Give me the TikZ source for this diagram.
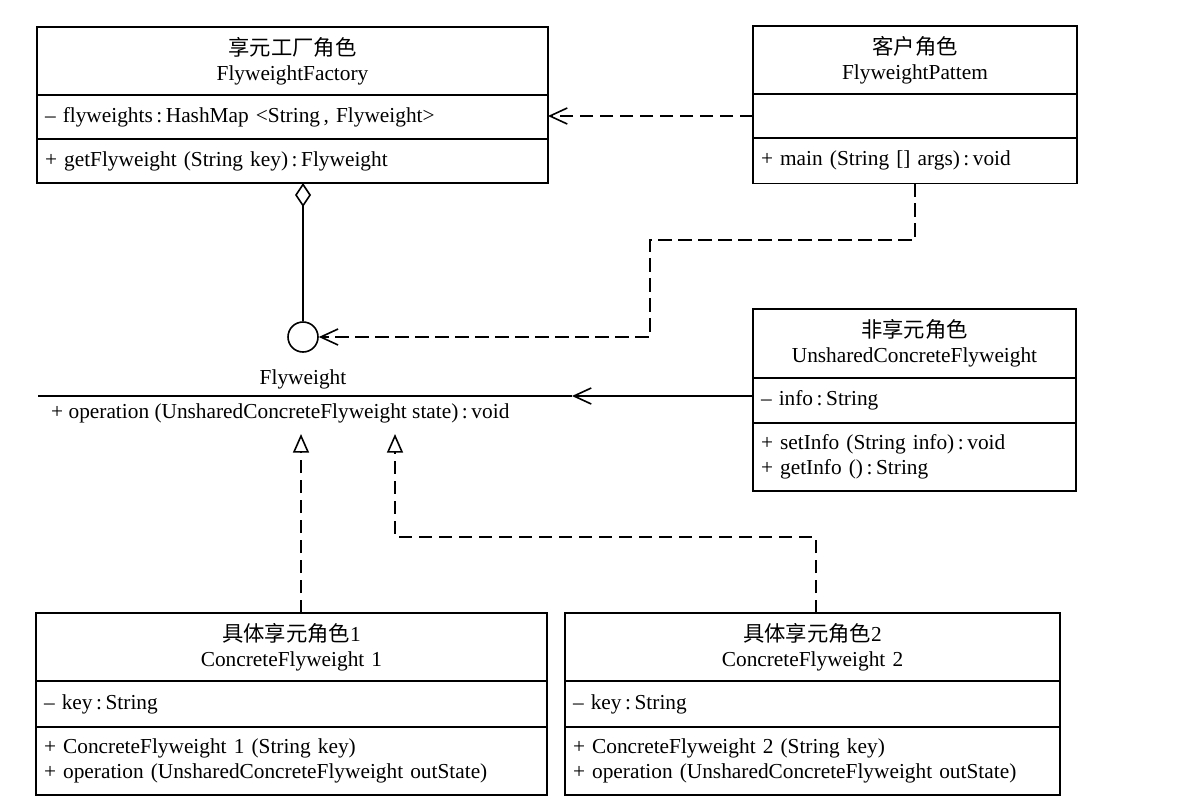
\documentclass[tikz,border=0pt]{standalone}
\usepackage{fontspec}
\setmainfont{Liberation Serif}
\newfontfamily\cjk{Noto Sans CJK SC}
\usetikzlibrary{arrows.meta,positioning}
\begin{document}
\begin{tikzpicture}[x=.75pt,y=-.75pt,line width=1.2pt,font=\fontsize{16pt}{19pt}\selectfont,
box/.style={draw,align=left,inner xsep=6pt,inner ysep=0pt,outer sep=0pt,text width=#1},
hd/.style={align=center,minimum height=51pt},
dep/.style={dash pattern=on 10pt off 5pt,-{Straight Barb[length=13pt,width=12pt]}},
assoc/.style={-{Straight Barb[length=13pt,width=12pt]}},
agg/.style={{Diamond[open,length=18pt,width=12pt]}-},
real/.style={dash pattern=on 10pt off 5pt,-{Triangle[open,length=14pt,width=12pt]}}]
\useasboundingbox(0,0)rectangle(1184,803);
\node[box=371.25pt,hd](fac)at(292.5,61){{\cjk 享元工厂角色}\\FlyweightFactory};
\node[box=371.25pt,minimum height=33pt,below=0pt of fac](facA){– flyweights\,:\,HashMap <String\,, Flyweight>};
\node[box=371.25pt,minimum height=33pt,below=0pt of facA](facO){+ getFlyweight (String key)\,:\,Flyweight};
\node[box=231pt,hd](pat)at(915,60){{\cjk 客户角色}\\FlyweightPattem};
\node[box=231pt,minimum height=33pt,below=0pt of pat](patA){};
\node[box=231pt,minimum height=34pt,below=0pt of patA](patO){+ main (String [] args)\,:\,void};
\node[box=230.25pt,hd,minimum height=51.75pt](uns)at(914.5,343.5){{\cjk 非享元角色}\\UnsharedConcreteFlyweight};
\node[box=230.25pt,minimum height=33.75pt,below=0pt of uns](unsA){– info\,:\,String};
\node[box=230.25pt,minimum height=51pt,below=0pt of unsA](unsO){+ setInfo (String info)\,:\,void\\+ getInfo ()\,:\,String};
\node[box=371.25pt,hd](cf1)at(291.5,647){{\cjk 具体享元角色}1\\ConcreteFlyweight\ 1};
\node[box=371.25pt,minimum height=34.5pt,below=0pt of cf1](cf1A){– key\,:\,String};
\node[box=371.25pt,minimum height=51pt,below=0pt of cf1A](cf1O){+ ConcreteFlyweight\ 1 (String key)\\+ operation (UnsharedConcreteFlyweight outState)};
\node[box=359.25pt,hd](cf2)at(812.5,647){{\cjk 具体享元角色}2\\ConcreteFlyweight\ 2};
\node[box=359.25pt,minimum height=34.5pt,below=0pt of cf2](cf2A){– key\,:\,String};
\node[box=359.25pt,minimum height=51pt,below=0pt of cf2A](cf2O){+ ConcreteFlyweight\ 2 (String key)\\+ operation (UnsharedConcreteFlyweight outState)};
\node[circle,draw,minimum size=22.5pt,inner sep=0pt](fw)at(303,337){};
\node(fwn)at(303,379){Flyweight};
\coordinate(fwl)at(38,396);\coordinate(fwr)at(572,396);
\node[anchor=west](fwop)at(46,413){+ operation (UnsharedConcreteFlyweight state)\,:\,void};
\coordinate(ri1)at(301,434);\coordinate(ri2)at(395,434);
\draw(fwl)--(fwr);\draw[assoc](uns.west|-fwr)--(fwr);
\draw[dep](patA.west)--(patA.west-|facA.east);
\draw[agg](facO.south-|fw.north)--(fw.north);
\draw[dep](patO.south)|-(650,240)|-(fw.east);
\draw[real](cf1.north-|ri1)--(ri1);\draw[real]([xshift=2.6pt]cf2.north)--++(0,-76)-|(ri2);
\end{tikzpicture}
\end{document}
